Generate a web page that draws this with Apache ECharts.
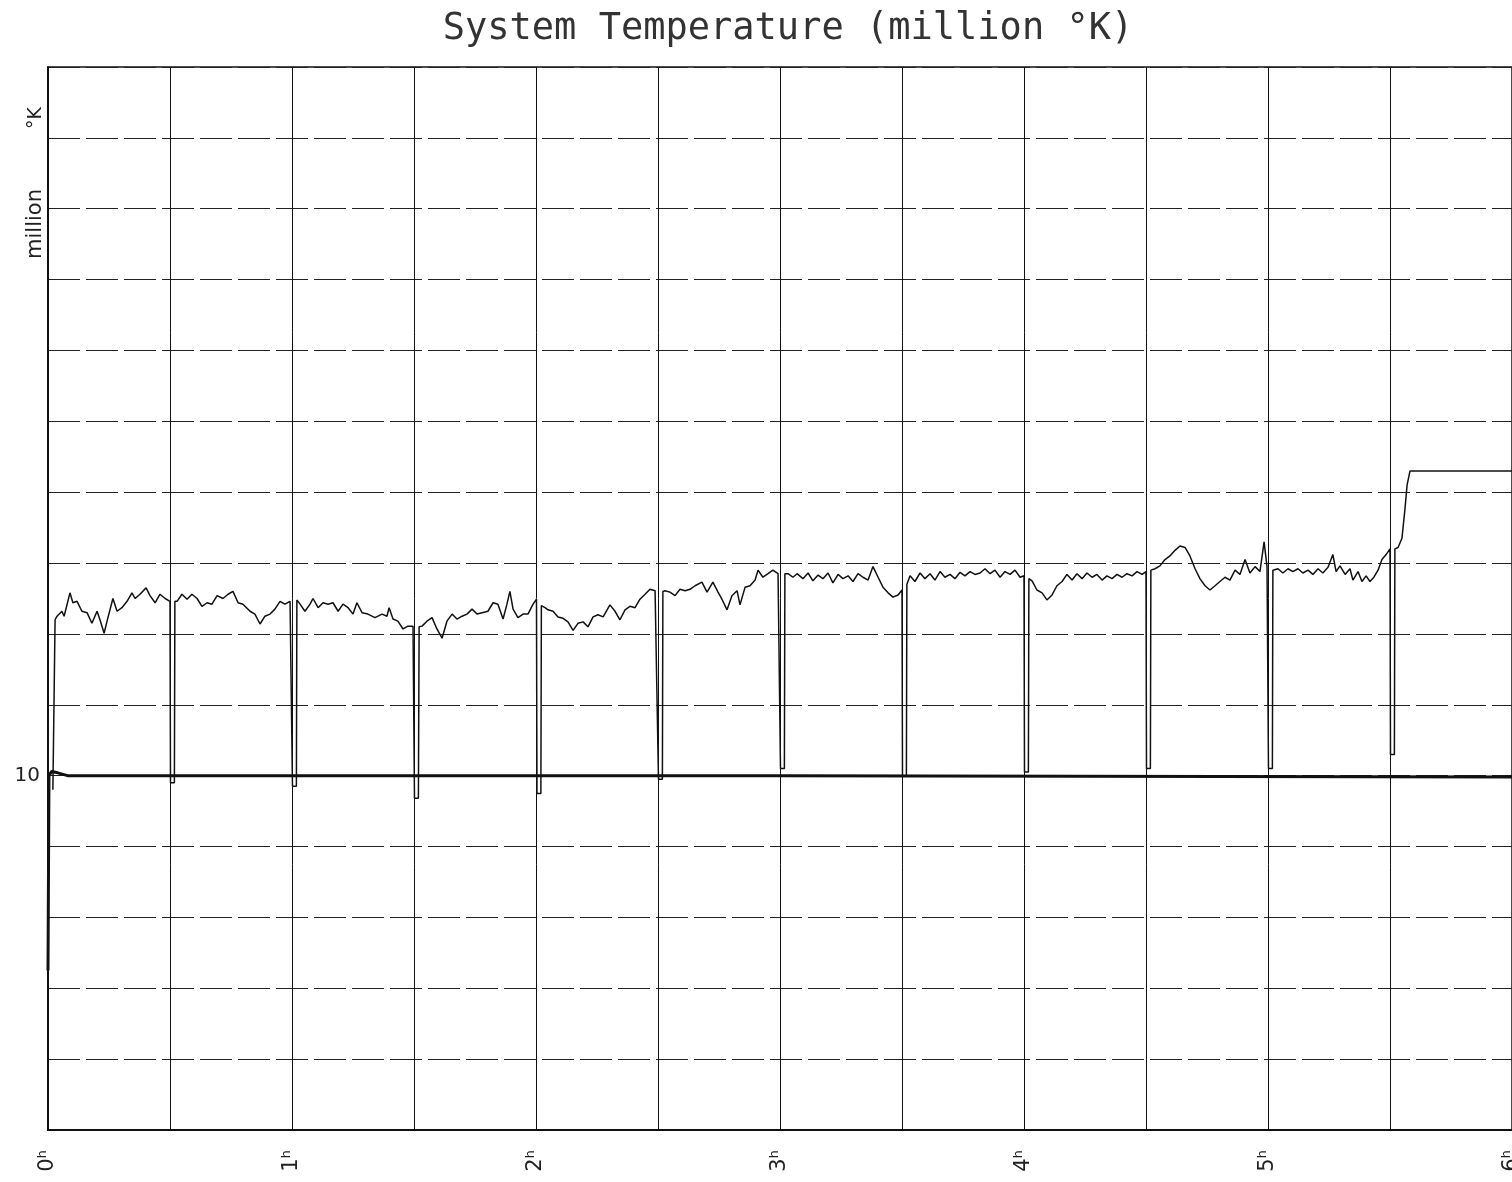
<!DOCTYPE html>
<html>
<head>
<meta charset="utf-8">
<script src="https://cdn.jsdelivr.net/npm/echarts@6/dist/echarts.min.js"></script>
<style>html,body{margin:0;padding:0;background:#fff;}#c{width:1512px;height:1182px;}</style>
</head>
<body>
<div id="c"></div>
<script>
// ---- data (hours, million K) ----
const xTickLabels = ['0ʰ','1ʰ','2ʰ','3ʰ','4ʰ','5ʰ','6ʰ'];
const yTickLabels = {10: '10'};

const tempHours = [
0.020,0.029,0.037,0.057,0.066,0.090,0.102,0.119,0.139,0.160,0.180,0.201,0.213,0.230,0.242,0.266,0.283,0.303,0.324,0.344,0.357,0.377,0.402,0.418,0.439,0.459,0.480,0.500,
0.502,0.518,0.520,
0.529,0.549,0.570,0.590,0.611,0.631,0.652,0.672,0.693,0.717,0.738,0.758,0.779,0.799,0.828,0.848,0.869,0.889,0.910,0.930,0.951,0.971,0.992,
1.002,1.018,1.020,
1.033,1.053,1.074,1.086,1.107,1.127,1.148,1.168,1.189,1.209,1.230,1.250,1.266,1.287,1.311,1.340,1.369,1.389,1.398,1.414,1.434,1.455,1.475,1.496,
1.502,1.518,1.521,
1.533,1.553,1.574,1.594,1.615,1.635,1.656,1.676,1.697,1.717,1.738,1.758,1.779,1.803,1.824,1.844,1.865,1.881,1.893,1.906,1.926,1.947,1.967,1.988,2.002,
2.004,2.020,2.022,
2.037,2.049,2.070,2.090,2.111,2.131,2.152,2.172,2.193,2.213,2.234,2.254,2.275,2.303,2.324,2.344,2.365,2.385,2.406,2.426,2.447,2.467,2.488,
2.502,2.518,2.520,
2.529,2.549,2.570,2.590,2.611,2.631,2.652,2.680,2.701,2.725,2.746,2.762,2.783,2.803,2.824,2.836,2.857,2.877,2.898,2.910,2.930,2.951,2.971,2.992,
3.002,3.018,3.020,
3.033,3.053,3.070,3.094,3.115,3.135,3.156,3.176,3.197,3.217,3.238,3.258,3.279,3.299,3.320,3.340,3.361,3.381,3.402,3.422,3.443,3.463,3.484,3.500,
3.502,3.518,3.520,
3.533,3.553,3.574,3.594,3.615,3.635,3.656,3.676,3.697,3.717,3.738,3.758,3.779,3.799,3.820,3.840,3.861,3.881,3.902,3.922,3.943,3.963,3.984,4.000,
4.002,4.018,4.020,
4.033,4.053,4.074,4.094,4.115,4.135,4.156,4.176,4.197,4.217,4.238,4.258,4.279,4.299,4.320,4.340,4.361,4.381,4.402,4.422,4.443,4.463,4.484,4.500,
4.502,4.518,4.520,
4.537,4.557,4.578,4.598,4.619,4.639,4.660,4.680,4.701,4.721,4.742,4.762,4.783,4.803,4.824,4.844,4.865,4.885,4.906,4.926,4.947,4.967,4.984,4.996,
5.002,5.018,5.020,
5.041,5.061,5.082,5.102,5.123,5.143,5.164,5.184,5.205,5.225,5.246,5.266,5.279,5.295,5.316,5.336,5.348,5.369,5.385,5.402,5.418,5.434,5.451,5.467,5.484,5.500,
5.502,5.518,5.520,
5.533,5.549,5.561,5.570,5.582,6.000
];
const tempValues = [
9.80,12.20,12.25,12.32,12.25,12.58,12.44,12.46,12.32,12.30,12.15,12.32,12.20,12.01,12.18,12.50,12.32,12.37,12.46,12.58,12.50,12.56,12.65,12.54,12.44,12.56,12.50,12.46,
9.90,9.90,12.46,
12.46,12.56,12.49,12.56,12.50,12.39,12.44,12.42,12.54,12.50,12.56,12.60,12.44,12.42,12.32,12.28,12.14,12.25,12.28,12.35,12.46,12.42,12.46,
9.85,9.85,12.48,
12.42,12.32,12.42,12.50,12.37,12.44,12.42,12.44,12.32,12.42,12.37,12.28,12.44,12.30,12.28,12.23,12.28,12.25,12.37,12.21,12.18,12.07,12.11,12.11,
9.68,9.68,12.10,
12.11,12.18,12.23,12.07,11.94,12.18,12.28,12.21,12.25,12.28,12.35,12.28,12.30,12.32,12.44,12.42,12.21,12.42,12.60,12.35,12.23,12.28,12.28,12.42,12.49,
9.75,9.75,12.40,
12.37,12.34,12.32,12.24,12.22,12.17,12.05,12.15,12.17,12.10,12.24,12.27,12.24,12.41,12.32,12.20,12.34,12.39,12.37,12.49,12.56,12.63,12.61,
9.95,9.95,12.60,
12.61,12.59,12.54,12.63,12.61,12.63,12.68,12.73,12.59,12.73,12.59,12.49,12.34,12.54,12.61,12.41,12.66,12.68,12.76,12.90,12.80,12.85,12.90,12.85,
10.10,10.10,12.85,
12.85,12.80,12.85,12.78,12.86,12.75,12.83,12.78,12.86,12.72,12.84,12.78,12.82,12.74,12.85,12.80,12.76,12.95,12.80,12.66,12.58,12.52,12.55,12.62,
10.00,10.00,12.70,
12.82,12.74,12.86,12.78,12.85,12.76,12.88,12.80,12.84,12.78,12.87,12.82,12.88,12.84,12.86,12.92,12.85,12.90,12.80,12.88,12.84,12.90,12.80,12.82,
10.05,10.05,12.78,
12.75,12.62,12.58,12.48,12.55,12.68,12.74,12.84,12.76,12.85,12.78,12.86,12.80,12.84,12.76,12.82,12.78,12.84,12.80,12.85,12.82,12.88,12.84,12.88,
10.10,10.10,12.90,
12.92,12.96,13.05,13.10,13.18,13.24,13.22,13.10,12.92,12.78,12.68,12.62,12.68,12.74,12.80,12.76,12.90,12.84,13.05,12.86,12.95,12.88,13.30,12.95,
10.10,10.10,12.90,
12.92,12.86,12.92,12.88,12.92,12.86,12.90,12.84,12.92,12.86,12.94,13.12,12.88,12.96,12.84,12.92,12.76,12.88,12.74,12.82,12.74,12.80,12.90,13.05,13.12,13.20,
10.30,10.30,13.20,
13.22,13.35,13.75,14.10,14.30,14.30
];

const baseHours  = [0.000, 0.004, 0.015, 0.040, 0.080, 3.000, 6.000];
const baseValues = [7.25, 10.00, 10.06, 10.04, 10.00, 10.00, 9.98];

const zip = (a, b) => a.map((v, i) => [v, b[i]]);

const chart = echarts.init(document.getElementById('c'), null, {renderer: 'canvas'});
chart.setOption({
  animation: false,
  backgroundColor: '#fff',
  title: {
    text: 'System Temperature (million °K)',
    left: 783, textAlign: 'center', top: 6,
    textStyle: {fontFamily: 'DejaVu Sans Mono', fontSize: 37, fontWeight: 'normal', color: '#333'}
  },
  graphic: [
    {
      type: 'text', x: 36, y: 224, rotation: Math.PI / 2,
      style: {text: 'million', fontFamily: 'DejaVu Sans', fontSize: 21, fill: '#222', textAlign: 'center', textVerticalAlign: 'middle'}
    },
    {
      type: 'text', x: 36, y: 118, rotation: Math.PI / 2,
      style: {text: '°K', fontFamily: 'DejaVu Sans', fontSize: 19, fill: '#222', textAlign: 'center', textVerticalAlign: 'middle'}
    }
  ],
  grid: {left: 48, right: 0, top: 67, bottom: 52, outerBoundsMode: 'none', containLabel: false,
         show: true, borderColor: '#111', borderWidth: 1.5, backgroundColor: 'transparent'},
  xAxis: {
    type: 'value', min: 0, max: 6, interval: 0.5,
    axisLine: {show: true, lineStyle: {color: '#111', width: 2}},
    axisTick: {show: false},
    splitLine: {show: true, lineStyle: {color: '#111', width: 1, type: 'solid'}},
    axisLabel: {
      rotate: 90, margin: 20, color: '#222', fontFamily: 'DejaVu Sans', fontSize: 21,
      formatter: v => Number.isInteger(v) ? xTickLabels[v] : ''
    }
  },
  yAxis: {
    type: 'value', min: 5, max: 20, interval: 1,
    axisLine: {show: true, lineStyle: {color: '#111', width: 2}},
    axisTick: {show: false},
    splitLine: {show: true, lineStyle: {color: '#222', width: 1, type: [32, 6]}},
    axisLabel: {
      margin: 8, color: '#222', fontFamily: 'DejaVu Sans', fontSize: 20,
      formatter: v => yTickLabels[v] || ''
    }
  },
  series: [
    {
      type: 'line', data: zip(baseHours, baseValues), symbol: 'none', silent: true,
      lineStyle: {color: '#111', width: 3}
    },
    {
      type: 'line', data: zip(tempHours, tempValues), symbol: 'none', silent: true,
      lineStyle: {color: '#111', width: 1.5}
    }
  ]
});
</script>
</body>
</html>
